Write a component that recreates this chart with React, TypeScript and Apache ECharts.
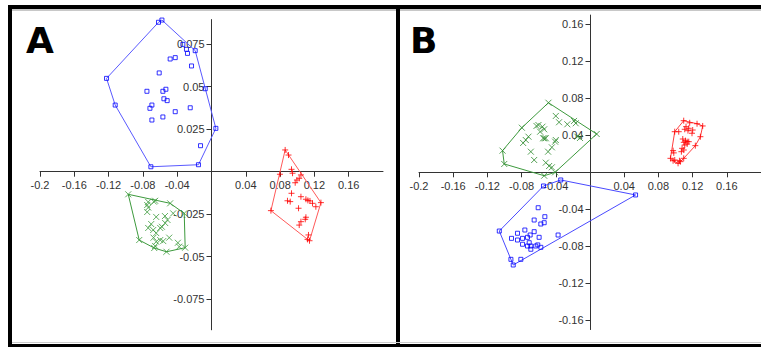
import React, { useEffect, useRef } from "react";
import * as echarts from "echarts";

// Panel A data
const blueA: [number, number][] = [
  [-0.0578, 0.0892], [-0.0618, 0.0879], [-0.0334, 0.0749], [-0.0292, 0.072], [-0.028, 0.0696],
  [-0.019, 0.0712], [-0.0482, 0.0663], [-0.0423, 0.0671], [-0.0233, 0.0622], [-0.061, 0.0581],
  [-0.1224, 0.0549], [-0.0753, 0.0473], [-0.0567, 0.0473], [-0.0532, 0.0485], [-0.0555, 0.0429],
  [-0.0517, 0.0418], [-0.0073, 0.0488], [-0.1123, 0.0392], [-0.0695, 0.0392], [-0.0718, 0.0373],
  [-0.0248, 0.0376], [-0.0423, 0.0353], [-0.0567, 0.0322], [-0.0695, 0.0304], [0.0051, 0.0255],
  [-0.0128, 0.0153], [-0.0707, 0.0029], [-0.0152, 0.0041],
];
const greenA: [number, number][] = [
  [-0.0971, -0.0133], [-0.0482, -0.0186], [-0.0318, -0.0245], [-0.0307, -0.0447], [-0.0525, -0.0471],
  [-0.0668, -0.0449], [-0.0843, -0.0402], [-0.0657, -0.0171], [-0.0672, -0.0176], [-0.0738, -0.0178],
  [-0.075, -0.0196], [-0.0738, -0.0211], [-0.075, -0.0237], [-0.0645, -0.0266], [-0.0543, -0.0261],
  [-0.0513, -0.0284], [-0.054, -0.0302], [-0.0578, -0.0324], [-0.0447, -0.0245], [-0.0703, -0.0308],
  [-0.0738, -0.0331], [-0.068, -0.0343], [-0.0645, -0.0361], [-0.0598, -0.0331], [-0.0676, -0.0388],
  [-0.0645, -0.0412], [-0.0598, -0.0402], [-0.0563, -0.0408], [-0.0493, -0.0388], [-0.0392, -0.0418],
  [-0.0377, -0.0441], [-0.0657, -0.0437],
];
const redA: [number, number][] = [
  [0.0859, 0.0128], [0.0898, 0.0098], [0.0933, 0.0014], [0.0945, -0.0009], [0.0798, -0.0015],
  [0.1043, -0.0019], [0.1023, -0.0039], [0.0996, -0.0049], [0.0976, -0.0065], [0.0933, -0.0127],
  [0.0886, -0.0171], [0.0918, -0.0176], [0.1043, -0.0147], [0.1101, -0.0162], [0.1124, -0.0169],
  [0.1148, -0.0172], [0.1178, -0.0186], [0.1276, -0.0182], [0.1217, -0.0206], [0.1015, -0.0215],
  [0.0693, -0.0229], [0.1101, -0.0268], [0.1093, -0.028], [0.1043, -0.0294], [0.1023, -0.0314],
  [0.1131, -0.0372], [0.112, -0.0398], [0.1143, -0.0406],
];

// Panel B data
const blueB: [number, number][] = [
  [-0.0342, -0.0083], [-0.0544, -0.0148], [0.0533, -0.0245], [-0.1061, -0.0635], [-0.0925, -0.0941],
  [-0.0898, -0.1002], [-0.0809, -0.0941], [-0.0606, -0.0383], [-0.0528, -0.048], [-0.0653, -0.0516],
  [-0.0575, -0.0559], [-0.0536, -0.0545], [-0.0762, -0.0624], [-0.0848, -0.0659], [-0.0918, -0.0714],
  [-0.0653, -0.0642], [-0.07, -0.0678], [-0.0595, -0.0703], [-0.0789, -0.0714], [-0.0848, -0.0732],
  [-0.0731, -0.0703], [-0.0711, -0.0761], [-0.0789, -0.0778], [-0.0731, -0.0797], [-0.0692, -0.0797],
  [-0.0634, -0.0797], [-0.0611, -0.0785], [-0.0692, -0.0832], [-0.0575, -0.0811], [-0.0373, -0.0678],
];
const greenB: [number, number][] = [
  [-0.0486, 0.0752], [-0.04, 0.0609], [-0.0362, 0.0541], [-0.0265, 0.0519], [-0.0187, 0.0555],
  [-0.0167, 0.053], [-0.0148, 0.0385], [-0.0117, 0.0371], [0.0078, 0.0414], [-0.0626, 0.0501],
  [-0.0603, 0.0511], [-0.0556, 0.0493], [-0.0583, 0.0439], [-0.0536, 0.0465], [-0.0797, 0.0482],
  [-0.072, 0.0385], [-0.0751, 0.0349], [-0.0782, 0.0317], [-0.0548, 0.0368], [-0.0533, 0.0368],
  [-0.0517, 0.0368], [-0.04, 0.0349], [-0.0408, 0.0331], [-0.0446, 0.027], [-0.049, 0.0223],
  [-0.0692, 0.0223], [-0.0653, 0.0133], [-0.1023, 0.0234], [-0.1003, 0.009], [-0.0517, 0.0104],
  [-0.0478, 0.0068], [-0.0446, 0.0054], [-0.0408, 0.0], [-0.0536, -0.0037],
];
const redB: [number, number][] = [
  [0.1096, 0.0558], [0.1166, 0.0535], [0.1252, 0.0525], [0.1318, 0.0501], [0.1123, 0.0493],
  [0.1155, 0.0476], [0.1108, 0.0465], [0.1146, 0.045], [0.1201, 0.0457], [0.1193, 0.0422],
  [0.1291, 0.0385], [0.1038, 0.0439], [0.0991, 0.0439], [0.1085, 0.036], [0.1117, 0.0342],
  [0.1136, 0.0331], [0.1097, 0.0324], [0.1155, 0.0331], [0.1108, 0.0295], [0.1136, 0.0306],
  [0.1077, 0.0259], [0.1097, 0.0241], [0.1069, 0.0223], [0.1232, 0.0288], [0.0972, 0.0234],
  [0.098, 0.021], [0.0941, 0.0151], [0.0972, 0.0125], [0.0991, 0.0133], [0.103, 0.0097],
  [0.1046, 0.0125], [0.1096, 0.0151], [0.1057, 0.0115],
];

const xTicks = [-0.2, -0.16, -0.12, -0.08, -0.04, 0.04, 0.08, 0.12, 0.16];
const yTicksA = [-0.075, -0.05, -0.025, 0.025, 0.05, 0.075];
const yTicksB = [-0.16, -0.12, -0.08, -0.04, 0.04, 0.08, 0.12, 0.16];

function hull(pts: [number, number][]): [number, number][] {
  const p = pts.slice().sort((a, b) => a[0] - b[0] || a[1] - b[1]);
  const cross = (o: number[], a: number[], b: number[]) =>
    (a[0] - o[0]) * (b[1] - o[1]) - (a[1] - o[1]) * (b[0] - o[0]);
  const lower: [number, number][] = [];
  for (const q of p) {
    while (lower.length >= 2 && cross(lower[lower.length - 2], lower[lower.length - 1], q) <= 0) lower.pop();
    lower.push(q);
  }
  const upper: [number, number][] = [];
  for (let i = p.length - 1; i >= 0; i--) {
    const q = p[i];
    while (upper.length >= 2 && cross(upper[upper.length - 2], upper[upper.length - 1], q) <= 0) upper.pop();
    upper.push(q);
  }
  const h = lower.slice(0, -1).concat(upper.slice(0, -1));
  h.push(h[0]);
  return h;
}

const SQUARE = "rect";
const XMARK = "path://M0,0L10,10M10,0L0,10";
const PLUS = "path://M5,0L5,10M0,5L10,5";

// grid geometry (pixels) and axis ranges
const GA = { left: 40, top: 19.55, width: 343, height: 310.25, ymin: -0.093, ymax: 0.0895 };
const GB = { left: 419, top: 15.05, width: 343, height: 314.5, ymin: -0.17, ymax: 0.17 };

export default function App() {
  const ref = useRef<HTMLDivElement>(null);
  useEffect(() => {
    if (!ref.current) return;
    const chart = echarts.init(ref.current, undefined, { renderer: "svg" });
    const font = "Liberation Sans, Arial, sans-serif";
    const axisCol = "#333";
    const xOffset = (g: typeof GA) => -(g.height * (-g.ymin) / (g.ymax - g.ymin));
    const yOffset = (g: typeof GA) => -(g.width * 0.2 / 0.4);
    const mkX = (gi: number, g: typeof GA) => ({
      type: "value",
      gridIndex: gi,
      min: -0.2,
      max: 0.2,
      position: "bottom",
      offset: xOffset(g),
      splitLine: { show: false },
      axisLine: { onZero: false, lineStyle: { color: axisCol, width: 1 } },
      axisTick: { show: true, length: 5, customValues: xTicks, lineStyle: { color: axisCol } },
      axisLabel: { customValues: xTicks, fontSize: 11, color: "#333", fontFamily: font, margin: 8 },
    });
    const mkY = (gi: number, g: typeof GA, ticks: number[]) => ({
      type: "value",
      gridIndex: gi,
      min: g.ymin,
      max: g.ymax,
      position: "left",
      offset: yOffset(g),
      splitLine: { show: false },
      axisLine: { onZero: false, lineStyle: { color: axisCol, width: 1 } },
      axisTick: { show: true, length: 5, customValues: ticks, lineStyle: { color: axisCol } },
      axisLabel: { customValues: ticks, fontSize: 11, color: "#333", fontFamily: font, margin: 7 },
    });
    const sc = (data: [number, number][], gi: number, symbol: string, col: string, size: number) => ({
      type: "scatter",
      xAxisIndex: gi,
      yAxisIndex: gi,
      data,
      symbol,
      symbolSize: size,
      itemStyle: { color: "rgba(0,0,0,0)", borderColor: col, borderWidth: 1 },
      z: 3,
    });
    const hl = (data: [number, number][], gi: number, col: string) => ({
      type: "line",
      xAxisIndex: gi,
      yAxisIndex: gi,
      data: hull(data),
      symbol: "none",
      clip: false,
      lineStyle: { color: col, width: 1 },
      z: 2,
    });
    const option = {
      animation: false,
      backgroundColor: "#fff",
      grid: [
        { left: GA.left, top: GA.top, width: GA.width, height: GA.height },
        { left: GB.left, top: GB.top, width: GB.width, height: GB.height },
      ],
      xAxis: [mkX(0, GA), mkX(1, GB)],
      yAxis: [mkY(0, GA, yTicksA), mkY(1, GB, yTicksB)],
      series: [
        hl(blueA, 0, "#5a5aff"),
        hl(greenA, 0, "#3d9a3d"),
        hl(redA, 0, "#ff5a5a"),
        sc(blueA, 0, SQUARE, "#0000ff", 4),
        sc(greenA, 0, XMARK, "#3a9a3a", 6),
        sc(redA, 0, PLUS, "#ff0000", 6),
        hl(blueB, 1, "#4a4aff"),
        hl(greenB, 1, "#3d9a3d"),
        hl(redB, 1, "#ff4040"),
        sc(blueB, 1, SQUARE, "#0000ff", 4),
        sc(greenB, 1, XMARK, "#2e8b2e", 6),
        sc(redB, 1, PLUS, "#ff0000", 6),
      ],
      graphic: [
        { type: "rect", shape: { x: 8, y: 5, width: 753, height: 4 }, style: { fill: "#000" }, z: 10 },
        { type: "rect", shape: { x: 12, y: 9, width: 749, height: 2 }, style: { fill: "#c8c8c8" }, z: 10 },
        { type: "rect", shape: { x: 8, y: 5, width: 4, height: 342 }, style: { fill: "#000" }, z: 10 },
        { type: "rect", shape: { x: 396, y: 5, width: 4, height: 342 }, style: { fill: "#000" }, z: 10 },
        { type: "rect", shape: { x: 12, y: 342, width: 749, height: 1 }, style: { fill: "#cccccc" }, z: 10 },
        { type: "rect", shape: { x: 8, y: 344, width: 753, height: 3 }, style: { fill: "#000" }, z: 10 },
        {
          type: "text", x: 26, y: 40, z: 10,
          style: { text: "A", font: "bold 36px DejaVu Sans, Arial, sans-serif", fill: "#000", textVerticalAlign: "middle" },
        },
        {
          type: "text", x: 410, y: 40, z: 10,
          style: { text: "B", font: "bold 36px DejaVu Sans, Arial, sans-serif", fill: "#000", textVerticalAlign: "middle" },
        },
      ],
    };
    chart.setOption(option as any);
    return () => chart.dispose();
  }, []);
  return (
    <div
      ref={ref}
      style={{ position: "fixed", left: 0, top: 0, width: 761, height: 347 }}
    />
  );
}
